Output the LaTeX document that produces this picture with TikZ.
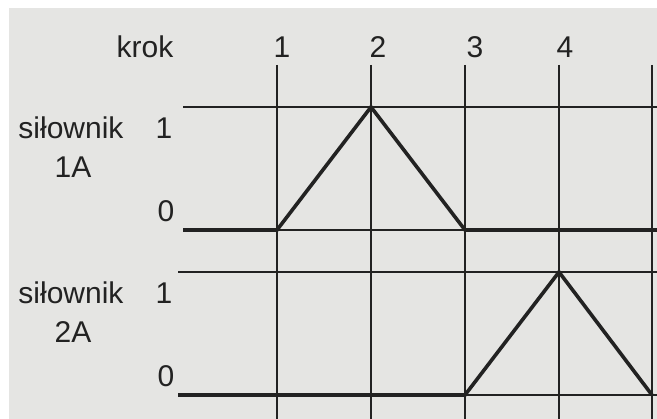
\documentclass[tikz,border=0pt]{standalone}
\usepackage{fontspec}
\setmainfont{Liberation Sans}
\usepackage{tikz}
\definecolor{paper}{RGB}{229,229,227}
\definecolor{ink}{RGB}{34,34,34}

\begin{document}
\begin{tikzpicture}[x=1pt,y=-1pt,font=\fontsize{30}{33}\selectfont,
  gridline/.style={ink,line width=1.6pt},
  profile/.style={ink,line width=3.6pt,line join=miter},
  lbl/.style={text=ink,inner sep=0pt}]
  \useasboundingbox (0,0) rectangle (657,419);
  \fill[paper] (9,8) rectangle (657,419);
  % step columns
  \node[lbl] (krok) at (145,47) {krok};
  \foreach \k/\xpos in {1/277,2/371,3/465,4/559,5/652} {
    \coordinate (top\k) at (\xpos,65);
    \coordinate (bot\k) at (\xpos,419);
    \draw[gridline] (top\k) -- (bot\k);
  }
  \foreach \k/\xpos in {1/282,2/378,3/475,4/565}
    \node[lbl] (step\k) at (\xpos,47) {\k};
  % actuator rows
  \foreach \row/\name/\one/\zero/\start in {a/1A/107/230/183,b/2A/272/395/178} {
    \coordinate (\row one) at (\start,\one);
    \coordinate (\row oneend) at (657,\one);
    \coordinate (\row zero) at (\start,\zero);
    \coordinate (\row zeroend) at (657,\zero);
    \draw[gridline] (\row one) -- (\row oneend);
    \draw[gridline] (\row zero) -- (\row zeroend);
    \foreach \k/\xpos in {1/277,2/371,3/465,4/559,5/652} {
      \coordinate (\row hi\k) at (\xpos,\one);
      \coordinate (\row lo\k) at (\xpos,\zero);
    }
    \node[lbl] (\row title) at (71,\one+21) {siłownik};
    \node[lbl] (\row name) at (73,\one+60) {\name};
    \node[lbl] (\row levelone) at (164,\one+21) {1};
    \node[lbl] (\row levelzero) at (166,\zero-19) {0};
  }
  % motion profiles
  \draw[profile] (azero) -- (alo1) -- (ahi2) -- (alo3) -- (azeroend);
  \draw[profile] (bzero) -- (blo3) -- (bhi4) -- (blo5);
\end{tikzpicture}
\end{document}
